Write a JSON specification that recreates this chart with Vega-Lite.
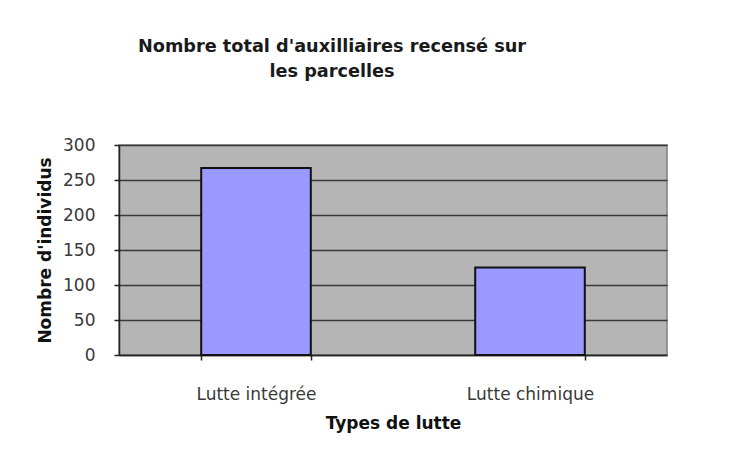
{
  "$schema": "https://vega.github.io/schema/vega-lite/v6.json",
  "autosize": "none",
  "width": 548,
  "height": 210,
  "padding": {"left": 119, "top": 145, "right": 86, "bottom": 101},
  "background": "white",
  "title": {
    "text": ["Nombre total d'auxilliaires recensé sur", "les parcelles"],
    "font": "DejaVu Sans",
    "fontSize": 17.7,
    "fontWeight": "bold",
    "color": "#1a1a1a",
    "anchor": "middle",
    "dx": -61,
    "offset": 55,
    "lineHeight": 25
  },
  "config": {
    "view": {"fill": "#b5b5b5", "stroke": "#808080", "strokeWidth": 1.5},
    "axis": {
      "labelFont": "DejaVu Sans",
      "labelFontSize": 17,
      "labelColor": "#3a3a3a",
      "titleFont": "DejaVu Sans",
      "titleFontSize": 17,
      "titleFontWeight": "bold",
      "titleColor": "#111111",
      "domainColor": "#222222",
      "domainWidth": 1.5,
      "tickColor": "#222222",
      "tickWidth": 1.5,
      "tickSize": 5
    }
  },
  "data": {
    "values": [
      {"type": "Lutte intégrée", "n": 267},
      {"type": "Lutte chimique", "n": 125}
    ]
  },
  "mark": {"type": "bar", "fill": "#9999ff", "stroke": "#111111", "strokeWidth": 2},
  "encoding": {
    "x": {
      "field": "type",
      "type": "nominal",
      "sort": null,
      "scale": {"paddingInner": 0.6, "paddingOuter": 0.3},
      "axis": {
        "title": "Types de lutte",
        "labelAngle": 0,
        "tickBand": "extent",
        "labelPadding": 26,
        "titlePadding": 13
      }
    },
    "y": {
      "field": "n",
      "type": "quantitative",
      "scale": {"domain": [0, 300], "nice": false},
      "axis": {
        "title": "Nombre d'individus",
        "values": [0, 50, 100, 150, 200, 250, 300],
        "grid": true,
        "gridColor": "#3a3a3a",
        "gridWidth": 1.5,
        "gridOpacity": 1,
        "labelPadding": 19,
        "titlePadding": 8
      }
    }
  }
}
